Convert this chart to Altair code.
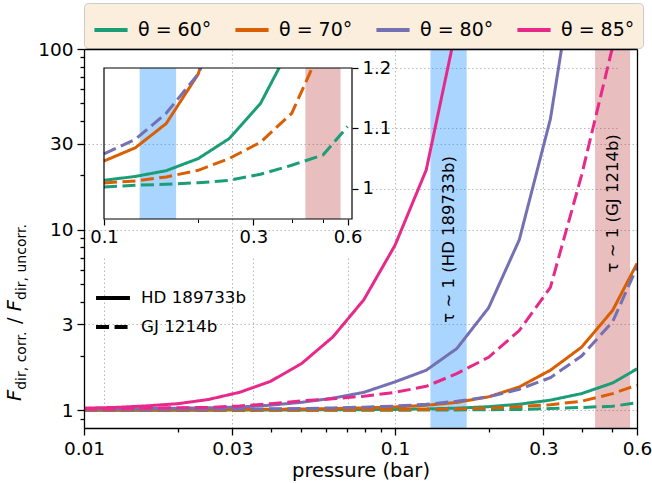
import altair as alt
import pandas as pd

# ---------------- data ----------------
pressure = [0.01, 0.0126, 0.0158, 0.02, 0.0251, 0.0316, 0.0398, 0.0501, 0.0631, 0.0794,
            0.1, 0.126, 0.158, 0.2, 0.251, 0.316, 0.398, 0.501, 0.6]

thetas = ["θ = 60°", "θ = 70°", "θ = 80°", "θ = 85°"]
planets = ["HD 189733b", "GJ 1214b"]
colors = ["#1b9e77", "#d95f02", "#7570b3", "#e7298a"]

hd_60 = [1.002, 1.002, 1.003, 1.003, 1.004, 1.005, 1.006, 1.007, 1.009, 1.011,
         1.014, 1.0205, 1.03, 1.05, 1.083, 1.141, 1.24, 1.42, 1.70]
gj_60 = [1.000, 1.000, 1.001, 1.001, 1.001, 1.001, 1.002, 1.002, 1.002, 1.003,
         1.003, 1.006, 1.0075, 1.010, 1.014, 1.024, 1.039, 1.056, 1.103]
hd_70 = [1.005, 1.006, 1.007, 1.008, 1.010, 1.012, 1.015, 1.020, 1.025, 1.034,
         1.046, 1.068, 1.108, 1.19, 1.35, 1.67, 2.24, 3.58, 6.5]
gj_70 = [1.002, 1.002, 1.003, 1.003, 1.004, 1.004, 1.005, 1.006, 1.007, 1.008,
         1.0097, 1.013, 1.0196, 1.0306, 1.05, 1.077, 1.125, 1.24, 1.38]
hd_80 = [1.02, 1.02, 1.025, 1.03, 1.035, 1.045, 1.07, 1.11, 1.17, 1.26,
         1.44, 1.67, 2.2, 3.7, 8.8, 41.0, 500.0, None, None]
gj_80 = [1.008, 1.009, 1.010, 1.012, 1.014, 1.017, 1.021, 1.026, 1.033, 1.043,
         1.058, 1.082, 1.125, 1.19, 1.31, 1.52, 2.0, 3.1, 6.2]
hd_85 = [1.03, 1.04, 1.06, 1.09, 1.15, 1.26, 1.45, 1.82, 2.55, 4.1,
         8.2, 21.4, 135.0, None, None, None, None, None, None]
gj_85 = [1.02, 1.02, 1.03, 1.035, 1.04, 1.06, 1.09, 1.13, 1.16, 1.2,
         1.26, 1.36, 1.6, 1.97, 2.77, 4.8, 20.0, 103.0, None]

band_lo = [0.13, 0.44]
band_hi = [0.17, 0.57]
band_labels = ["τ ∼ 1 (HD 189733b)", "τ ∼ 1 (GJ 1214b)"]
band_label_y = [8.85, 14.0]

x_major = [0.01, 0.03, 0.1, 0.3, 0.6]
x_minor = [0.02, 0.04, 0.05, 0.06, 0.07, 0.08, 0.09, 0.2, 0.4, 0.5]
y_major = [1, 3, 10, 30, 100]
y_minor = [0.9, 2, 4, 5, 6, 7, 8, 9, 20, 40, 50, 60, 70, 80, 90]
ix_major = [0.1, 0.3, 0.6]
ix_minor = [0.2, 0.4, 0.5]
iy_major = [1.0, 1.1, 1.2]

# ---------------- tables ----------------
series = [
    ("HD 189733b", "θ = 60°", hd_60), ("GJ 1214b", "θ = 60°", gj_60),
    ("HD 189733b", "θ = 70°", hd_70), ("GJ 1214b", "θ = 70°", gj_70),
    ("HD 189733b", "θ = 80°", hd_80), ("GJ 1214b", "θ = 80°", gj_80),
    ("HD 189733b", "θ = 85°", hd_85), ("GJ 1214b", "θ = 85°", gj_85),
]
rows = []
for planet, theta, vals in series:
    for p, v in zip(pressure, vals):
        if v is not None:
            rows.append({"p": p, "v": v, "planet": planet, "theta": theta})
df = pd.DataFrame(rows)

bands = pd.DataFrame({"lo": band_lo, "hi": band_hi, "label": band_labels, "ly": band_label_y})
bands["mid"] = (bands["lo"] * bands["hi"]) ** 0.5
dummy = pd.DataFrame({"p": [0.1], "v": [1.0]})

# ---------------- layout / styles ----------------
W, H = 553, 379
FONT = "DejaVu Sans"
IX0, IX1, IY0, IY1 = 20, 268, 19, 170   # inset box inside the plot area (px)

XM = alt.Scale(type="log", domain=[0.01, 0.6], range=[0, W], nice=False)
YM = alt.Scale(type="log", domain=[0.8, 100], range=[H, 0], nice=False)
XI = alt.Scale(type="log", domain=[0.1, 0.62], range=[IX0, IX1], nice=False)
YI = alt.Scale(type="linear", domain=[0.95, 1.2], range=[IY1, IY0], nice=False, zero=False)

grid = dict(grid=True, gridColor="#b0b0b0", gridDash=[1.5, 2.5], gridWidth=0.9,
            domain=False, ticks=False, labels=False, title=None, zindex=0)
tk = dict(tickColor="black", tickWidth=1.3, domainColor="black", domainWidth=1.3,
          labelFont=FONT, labelColor="black", labelFlush=False, labelOverlap=False, grid=False)

ax_x_grid = alt.Axis(orient="bottom", values=x_major, **grid)
ax_y_grid = alt.Axis(orient="left", values=y_major, **grid)
ax_x_major = alt.Axis(orient="bottom", values=x_major, format="~g", tickSize=7, labelFontSize=18.5,
                      labelPadding=4, title="pressure (bar)", titleFont=FONT, titleFontSize=19.5,
                      titleFontWeight="normal", titleColor="black", titlePadding=4, zindex=1, **tk)
ax_y_major = alt.Axis(orient="left", values=y_major, format="~g", tickSize=7, labelFontSize=18.5,
                      labelPadding=4, title=None, zindex=1, **tk)
ax_x_minor = alt.Axis(orient="bottom", values=x_minor, tickSize=4, labels=False, domain=False,
                      title=None, zindex=1, **tk)
ax_y_minor = alt.Axis(orient="left", values=y_minor, tickSize=4, labels=False, domain=False,
                      title=None, zindex=1, **tk)
ax_x_top = alt.Axis(orient="top", ticks=False, labels=False, title=None, domain=True,
                    domainColor="black", domainWidth=1.3, grid=False, zindex=1)
ax_y_right = alt.Axis(orient="right", ticks=False, labels=False, title=None, domain=True,
                      domainColor="black", domainWidth=1.3, grid=False, zindex=1)

igrid = dict(grid=True, gridColor="#b0b0b0", gridDash=[1.5, 2.5], gridWidth=0.9)
ax_ix = alt.Axis(orient="bottom", offset=-(H - IY1), values=ix_major, format="~g", tickSize=6,
                 labelFontSize=18, labelPadding=3, domain=False, title=None, zindex=0,
                 tickColor="black", tickWidth=1.2, labelFont=FONT, labelColor="black",
                 labelFlush=False, labelOverlap=False, **igrid)
ax_iy = alt.Axis(orient="right", offset=-(W - IX1), values=iy_major, format="~g", tickSize=6,
                 labelFontSize=18, labelPadding=4, domain=False, title=None, zindex=0,
                 tickColor="black", tickWidth=1.2, labelFont=FONT, labelColor="black",
                 labelFlush=False, labelOverlap=False, **igrid)
ax_ix_minor = alt.Axis(orient="bottom", offset=-(H - IY1), values=ix_minor, tickSize=3.5,
                       labels=False, domain=False, title=None, grid=False, zindex=0,
                       tickColor="black", tickWidth=1.0)

color_main = alt.Color("theta:N", scale=alt.Scale(domain=thetas, range=colors),
                       legend=alt.Legend(orient="none", legendX=0, legendY=-46, direction="horizontal",
                                         columns=4, title=None, symbolType="stroke", symbolSize=1100,
                                         symbolStrokeWidth=4, labelFont=FONT, labelFontSize=19,
                                         labelColor="black", labelOffset=8, columnPadding=15,
                                         fillColor="#FBEEDD", strokeColor="#CCCCCC", cornerRadius=4,
                                         padding=8, labelLimit=200))
dash_scale = alt.Scale(domain=planets, range=[[1, 0], [13, 5.5]])
dash_main = alt.StrokeDash("planet:N", scale=dash_scale,
                           legend=alt.Legend(orient="none", legendX=10, legendY=230, title=None,
                                             symbolType="stroke", symbolSize=1150, symbolStrokeWidth=4,
                                             symbolStrokeColor="black", labelFont=FONT, labelFontSize=16.7,
                                             labelColor="black", labelOffset=9, rowPadding=1,
                                             labelLimit=200))

# ---------------- main layers ----------------
band_fill = ["#1E90FF", "#B83B3B"]
band_alpha = [0.38, 0.33]

band_main = [
    alt.Chart(bands.iloc[[i]]).mark_rect(color=band_fill[i], opacity=band_alpha[i]).encode(
        x=alt.X("lo:Q", scale=XM, axis=ax_x_grid if i == 0 else None), x2="hi:Q")
    for i in range(2)
]

lines_main = alt.Chart(df).mark_line(strokeWidth=3, clip=True).encode(
    x=alt.X("p:Q", scale=XM, axis=None),
    y=alt.Y("v:Q", scale=YM, axis=ax_y_grid),
    color=color_main,
    strokeDash=dash_main,
    order="p:Q",
)

band_text = alt.Chart(bands).mark_text(angle=270, font=FONT, fontSize=16.5, color="black",
                                       align="center", baseline="middle").encode(
    x=alt.X("mid:Q", scale=XM, axis=ax_x_major),
    y=alt.Y("ly:Q", scale=YM, axis=ax_y_major),
    text="label:N",
)

minor_main = alt.Chart(dummy).mark_point(opacity=0).encode(
    x=alt.X("p:Q", scale=XM, axis=ax_x_minor),
    y=alt.Y("v:Q", scale=YM, axis=ax_y_minor),
)
frame_main = alt.Chart(dummy).mark_point(opacity=0).encode(
    x=alt.X("p:Q", scale=XM, axis=ax_x_top),
    y=alt.Y("v:Q", scale=YM, axis=ax_y_right),
)

# ---------------- inset layers ----------------
band_inset = [
    alt.Chart(bands.iloc[[i]]).mark_rect(color=band_fill[i], opacity=band_alpha[i]).encode(
        x=alt.X("lo:Q", scale=XI, axis=None), x2="hi:Q",
        y=alt.Y(datum=0.95, scale=YI, axis=None), y2=alt.Y2(datum=1.2))
    for i in range(2)
]

lines_inset = alt.Chart(df).transform_filter("datum.p >= 0.1").mark_line(strokeWidth=3, clip=True).encode(
    x=alt.X("p:Q", scale=XI, axis=ax_ix),
    y=alt.Y("v:Q", scale=YI, axis=ax_iy),
    color=alt.Color("theta:N", scale=alt.Scale(domain=thetas, range=colors), legend=None),
    strokeDash=alt.StrokeDash("planet:N", scale=dash_scale, legend=None),
    order="p:Q",
)

minor_inset = alt.Chart(dummy).mark_point(opacity=0).encode(
    x=alt.X("p:Q", scale=XI, axis=ax_ix_minor),
)

mask = alt.Chart(dummy).mark_rect(color="white", clip=True).encode(
    x=alt.X(datum=0.098, scale=XI, axis=None), x2=alt.X2(datum=0.625),
    y=alt.Y(datum=1.2, scale=YI, axis=None), y2=alt.Y2(datum=1.6),
)
box = alt.Chart(dummy).mark_rect(fillOpacity=0, stroke="black", strokeWidth=1.2).encode(
    x=alt.X(datum=0.1, scale=XI, axis=None), x2=alt.X2(datum=0.62),
    y=alt.Y(datum=0.95, scale=YI, axis=None), y2=alt.Y2(datum=1.2),
)
grid_fix = alt.Chart(dummy).mark_rule(color="#b0b0b0", strokeDash=[1.5, 2.5], strokeWidth=0.9,
                                      clip=True).encode(
    x=alt.X(datum=0.03, scale=XM, axis=None),
    y=alt.Y(datum=1.2, scale=YI, axis=None), y2=alt.Y2(datum=1.6),
)

# ---------------- y-axis title (F_dir,corr. / F_dir,uncorr.) ----------------
big, small = 19.5, 14.0
pieces = [("F", "italic", big, 0.575), ("dir, corr.", "normal", small, 4.26),
          ("/", "normal", big, 0.337), ("F", "italic", big, 0.575),
          ("dir, uncorr.", "normal", small, 5.53)]
base_main, base_sub = -63, -58
ypos = 352.0
title_layers = []
for k, (txt, style, size, adv) in enumerate(pieces):
    if txt == "/":
        ypos -= 0.318 * big
    bx = base_main if size == big else base_sub
    title_layers.append(
        alt.Chart(pd.DataFrame({"t": [txt]})).mark_text(
            angle=270, align="left", baseline="alphabetic", font=FONT, fontSize=size,
            fontStyle=style, color="black").encode(
            x=alt.value(bx), y=alt.value(ypos), text="t:N")
    )
    ypos -= adv * size
    if txt == "/":
        ypos -= 0.318 * big

chart = alt.layer(
    *band_main, lines_main, band_text, minor_main, frame_main,
    *band_inset, lines_inset, minor_inset, mask, box, grid_fix, *title_layers,
).resolve_scale(
    x="independent", y="independent", color="independent", strokeDash="independent"
).resolve_axis(
    x="independent", y="independent"
).resolve_legend(
    color="independent", strokeDash="independent"
).properties(
    width=W, height=H,
    autosize=alt.AutoSizeParams(type="none"),
    padding={"left": 84, "top": 49, "right": 15, "bottom": 55},
    background="white",
).configure_view(stroke=None)

chart.save("out.html", embed_options={"renderer": "svg", "actions": False})
